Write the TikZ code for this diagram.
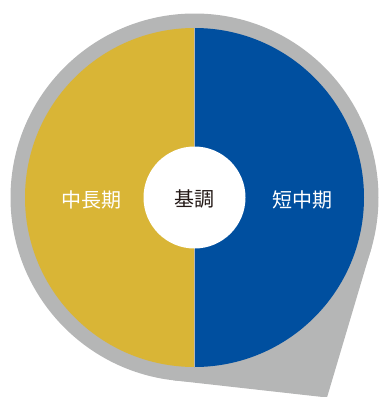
\documentclass[tikz,border=0pt]{standalone}
\usepackage{fontspec}
\newfontfamily\cjk{Noto Sans CJK JP}
\definecolor{ringgray}{HTML}{B5B6B6}
\definecolor{goldy}{HTML}{D9B536}
\definecolor{bluey}{HTML}{004F9F}
\definecolor{darktext}{HTML}{231815}
\tikzset{
  lbl/.style={font=\cjk\fontsize{20}{20}\selectfont, inner sep=0pt},
}
\begin{document}
\begin{tikzpicture}[x=1pt,y=-1pt]
\useasboundingbox (0,0) rectangle (379,397);
\coordinate (c) at (194.5,197.5);
\begin{scope}
\clip (0,0) rectangle (379,397);
% gray ring with tail
\fill[ringgray] (c) circle[radius=184];
\fill[ringgray] (173.4,380.3) -- (327,397.5) -- (371.5,247.7) -- (c) -- cycle;
\end{scope}
% halves
\fill[goldy] (194.5,28) arc[start angle=-90, end angle=-270, radius=169.5] -- cycle;
\fill[bluey] (194.5,28) arc[start angle=-90, end angle=90, radius=169.5] -- cycle;
\draw[ringgray, line width=1] (194.5,28) -- (194.5,367);
% centre
\fill[white] (c) circle[radius=51];
\node[lbl, text=darktext] (kicho) at (194,199) {基調};
\node[lbl, text=white] (left) at (91,200) {中長期};
\node[lbl, text=white] (right) at (302,200) {短中期};
\end{tikzpicture}
\end{document}
